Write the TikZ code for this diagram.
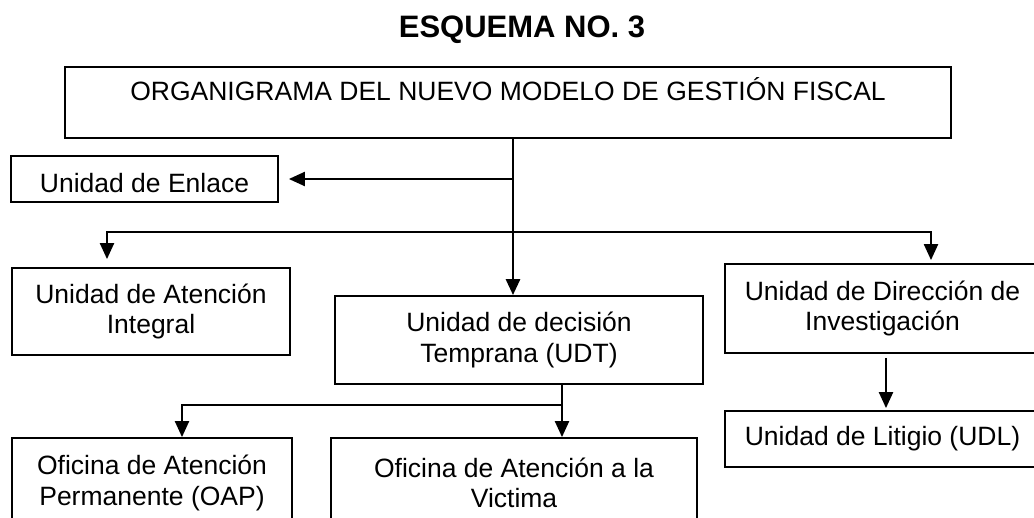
\documentclass[tikz,border=0pt]{standalone}
\usepackage{fontspec}
\setmainfont{Liberation Sans}
\usetikzlibrary{arrows.meta}
\tikzset{
  unit/.style={draw, line width=1.8pt, rectangle, align=center, inner sep=0pt,
    font=\fontsize{26.5}{30.5}\selectfont},
  link/.style={line width=2.2pt, -{Triangle[width=14pt,length=16pt]}},
}
\begin{document}
\begin{tikzpicture}[x=1pt,y=-1pt]
  \clip (0,0) rectangle (1034,518);

  % Title and head box
  \node[font=\fontsize{31}{36}\selectfont\bfseries] (title) at (522,30) {ESQUEMA NO. 3};
  \node[unit, minimum width=886pt, text height=34pt, text depth=37pt] (org) at (508,102.5)
    {ORGANIGRAMA DEL NUEVO MODELO DE GESTIÓN FISCAL};

  % Units
  \node[unit, minimum width=267pt, text height=37pt, text depth=9pt] (enlace) at (144.5,179) {Unidad de Enlace};
  \node[unit, minimum width=278pt, minimum height=87pt] (integral) at (151,311.5) {Unidad de Atención\\Integral};
  \node[unit, minimum width=368pt, minimum height=88pt] (udt) at (519,340) {Unidad de decisión\\Temprana (UDT)};
  \node[unit, minimum width=315pt, minimum height=89pt] (direccion) at (882.5,308.5) {Unidad de Dirección de\\Investigación};
  \node[unit, minimum width=315pt, minimum height=56pt] (litigio) at (882.5,439) {Unidad de Litigio (UDL)};
  \node[unit, minimum width=280pt, minimum height=90pt] (oap) at (152,483) {Oficina de Atención\\Permanente (OAP)};
  \node[unit, minimum width=366pt, minimum height=90pt] (victima) at (514,483) {Oficina de Atención a la\\Victima};

  % Connectors
  \coordinate (trunk) at (513,138);
  \coordinate (fork) at (513,232);
  \coordinate (split) at (562,405);
  \draw[link, line width=2.8pt] (trunk) -- (trunk |- udt.north);
  \draw[link, shorten >=10pt] (trunk |- enlace.east) -- (enlace.east);
  \draw[link, shorten >=8pt] (fork) -| ([xshift=-44pt]integral.north);
  \draw[link, shorten >=3pt] (fork) -| ([xshift=48.5pt]direccion.north);
  \draw[link, shorten <=4pt, shorten >=2pt] ([xshift=3.5pt]direccion.south) -- ([xshift=3.5pt]litigio.north);
  \draw[link] ([xshift=43pt]udt.south) -- ([xshift=43pt]udt.south |- victima.north);
  \draw[link] (split) -| ([xshift=30pt]oap.north);
\end{tikzpicture}
\end{document}
